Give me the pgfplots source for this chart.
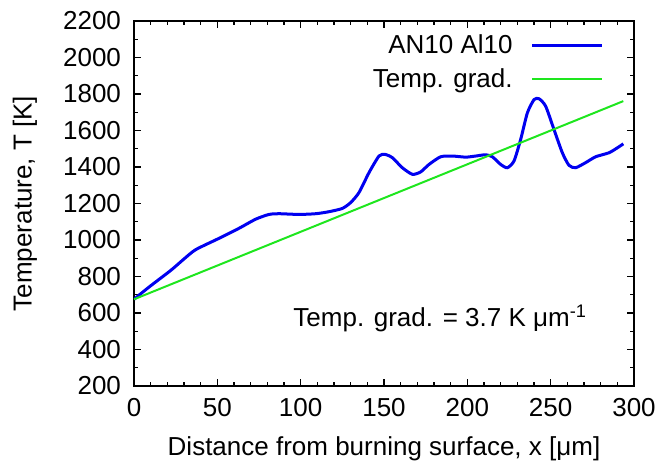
\documentclass[border=0pt]{standalone}
\usepackage{fontspec}
\setmainfont{Liberation Sans}
\usepackage{pgfplots}
\pgfplotsset{compat=1.18}
\definecolor{cblue}{RGB}{0,0,240}
\definecolor{cgreen}{RGB}{30,230,30}
\begin{document}
\begin{tikzpicture}
\begin{axis}[
    scale only axis,
    width=250pt,
    height=182.5pt,
    xmin=0, xmax=300,
    ymin=200, ymax=2200,
    xtick={0,50,...,300},
    ytick={200,400,...,2200},
    minor x tick num=4,
    minor y tick num=1,
    major tick length=3.5pt,
    minor tick length=2pt,
    tick style={black, line width=0.6pt},
    axis line style={line width=0.75pt},
    font=\fontsize{13}{15}\selectfont,
    xticklabel style={yshift=-2.5pt},
    yticklabel style={xshift=-3pt},
    /pgf/number format/assume math mode=true,
    /pgf/number format/1000 sep={},
    xlabel={Distance from burning surface, x [μm]},
    ylabel={Temperature, T [K]},
    every axis x label/.style={at={(axis description cs:0.5,-0.172)}, anchor=center},
    every axis y label/.style={at={(axis description cs:-0.218,0.5)}, anchor=center, rotate=90},
    legend plot pos=right,
    legend cell align=right,
    legend style={draw=none, fill=none, inner sep=0pt, at={(0.94,0.975)}, anchor=north east,
        row sep=2pt, column sep=7pt, font=\fontsize{13}{15}\selectfont},
    legend image code/.code={\draw[#1] (0pt,0pt) -- (35pt,0pt);},
]
\addplot[cblue, line width=1.5pt, smooth, tension=0.4] coordinates {
    (0,675) (9,742) (22,833) (30,896) (37,947) (51,1009) (63,1064) (73,1114)
    (81,1140) (87,1144) (99,1140) (109,1144) (117,1155) (125,1173) (130,1205)
    (135,1260) (141,1369) (147,1460) (150.6,1469) (155,1451) (161,1396) (167,1360)
    (172,1373) (177,1414) (184,1456) (191,1460) (199,1454) (205,1460) (211,1467)
    (215,1456) (220,1414) (224,1396) (228,1433) (232,1551) (236,1696) (240,1769)
    (243,1774) (247,1733) (252,1605) (257,1478) (261,1409) (265,1396) (271,1424)
    (277,1456) (285,1478) (290,1505) (293.6,1527)
};
\addlegendentry{AN10 Al10}
\addplot[cgreen, line width=1pt] coordinates {(0,675) (293.6,1761)};
\addlegendentry{Temp. grad.}
\node[anchor=east, font=\fontsize{13}{15}\selectfont] at (axis cs:276,572)
    {Temp. grad. = 3.7 K μm\textsuperscript{-1}};
\end{axis}
\pgfresetboundingbox
\path[use as bounding box] (-67pt,-44pt) rectangle (261.5pt,193pt);
\end{tikzpicture}
\end{document}
